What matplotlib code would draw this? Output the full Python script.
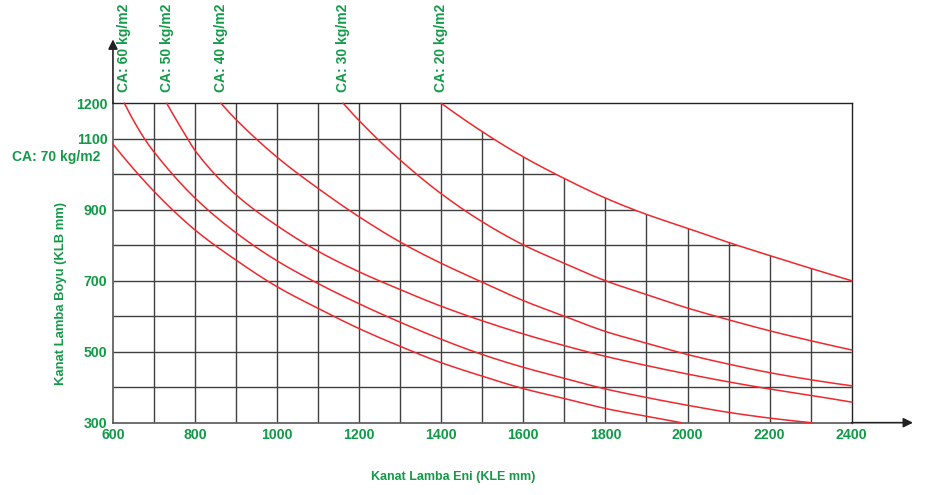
import matplotlib
matplotlib.use('Agg')
import matplotlib.pyplot as plt
import numpy as np
from matplotlib.patches import Polygon

plt.rcParams['font.family'] = ['DejaVu Sans']

# ---------------- data ----------------
ca_labels = ['CA: 70 kg/m2', 'CA: 60 kg/m2', 'CA: 50 kg/m2',
             'CA: 40 kg/m2', 'CA: 30 kg/m2', 'CA: 20 kg/m2']

ca70_x = [600, 700, 800, 900, 1000, 1100, 1200, 1300, 1400, 1500, 1600, 1700, 1800, 1900, 1985]
ca70_y = [1085, 952, 843, 758, 683, 622, 565, 515, 469, 431, 396, 368, 340, 318, 300]

ca60_x = [628, 677, 700, 800, 900, 1000, 1100, 1200, 1300, 1400, 1500, 1600, 1700, 1800, 1900, 2000, 2100, 2200, 2302]
ca60_y = [1200, 1100, 1063, 933, 835, 756, 692, 635, 583, 535, 492, 456, 425, 395, 371, 349, 329, 313, 300]

ca50_x = [731, 782, 800, 900, 1000, 1100, 1200, 1300, 1400, 1500, 1600, 1700, 1800, 1900, 2000, 2100, 2200, 2300, 2400]
ca50_y = [1200, 1100, 1067, 942, 855, 783, 725, 675, 628, 587, 550, 517, 487, 461, 437, 415, 395, 377, 358]

ca40_x = [863, 900, 1000, 1100, 1200, 1300, 1400, 1500, 1600, 1700, 1800, 1900, 2000, 2100, 2200, 2300, 2400]
ca40_y = [1200, 1154, 1048, 960, 880, 809, 749, 696, 644, 600, 557, 524, 492, 465, 441, 421, 404]

ca30_x = [1161, 1200, 1300, 1400, 1500, 1600, 1700, 1800, 1900, 2000, 2100, 2200, 2300, 2400]
ca30_y = [1200, 1151, 1040, 945, 866, 801, 749, 700, 661, 623, 590, 559, 531, 505]

ca20_x = [1400, 1500, 1600, 1700, 1800, 1900, 2000, 2100, 2200, 2300, 2400]
ca20_y = [1200, 1120, 1049, 988, 933, 887, 848, 808, 771, 735, 700]

x_ticks = [600, 800, 1000, 1200, 1400, 1600, 1800, 2000, 2200, 2400]
y_ticks = [300, 500, 700, 900, 1100, 1200]
grid_x = list(range(700, 2400, 100))
grid_y = list(range(400, 1200, 100))

x_label = 'Kanat Lamba Eni (KLE mm)'
y_label = 'Kanat Lamba Boyu (KLB mm)'

SANS = ['Liberation Sans', 'DejaVu Sans']


def smooth(xs, ys, n=200):
    """Monotone cubic (PCHIP) rendering of the read points."""
    x = np.asarray(xs, float)
    y = np.asarray(ys, float)
    h = np.diff(x)
    d = np.diff(y) / h
    m = np.zeros_like(x)
    for k in range(1, len(x) - 1):
        if d[k - 1] * d[k] > 0:
            w1 = 2 * h[k] + h[k - 1]
            w2 = h[k] + 2 * h[k - 1]
            m[k] = (w1 + w2) / (w1 / d[k - 1] + w2 / d[k])
    m[0] = ((2 * h[0] + h[1]) * d[0] - h[0] * d[1]) / (h[0] + h[1])
    if np.sign(m[0]) != np.sign(d[0]):
        m[0] = 0
    m[-1] = ((2 * h[-1] + h[-2]) * d[-1] - h[-1] * d[-2]) / (h[-1] + h[-2])
    if np.sign(m[-1]) != np.sign(d[-1]):
        m[-1] = 0
    xx = np.linspace(x[0], x[-1], n)
    idx = np.clip(np.searchsorted(x, xx) - 1, 0, len(x) - 2)
    t = (xx - x[idx]) / h[idx]
    h00 = 2 * t**3 - 3 * t**2 + 1
    h10 = t**3 - 2 * t**2 + t
    h01 = -2 * t**3 + 3 * t**2
    h11 = t**3 - t**2
    yy = (h00 * y[idx] + h10 * h[idx] * m[idx]
          + h01 * y[idx + 1] + h11 * h[idx] * m[idx + 1])
    return xx, yy


# ---------------- styling ----------------
GREEN = '#139a48'
RED = '#f0282d'
GRID = '#404040'

fig = plt.figure(figsize=(9.39, 4.95), dpi=100)
ax = fig.add_axes([0.1203, 0.1461, 0.7867, 0.6452])
ax.set_xlim(600, 2400)
ax.set_ylim(300, 1200)

# grid is only drawn below the CA 20 curve
c20x, c20y = smooth(ca20_x, ca20_y)
clip_verts = [(600, 300), (600, 1200)] + list(zip(c20x, c20y)) + [(2400, 300)]
clip_poly = Polygon(clip_verts, closed=True, facecolor='none', edgecolor='none',
                    transform=ax.transData)
ax.add_patch(clip_poly)

vl = ax.vlines(grid_x, 300, 1200, colors=GRID, linewidth=1.0, zorder=1)
hl = ax.hlines(grid_y, 600, 2400, colors=GRID, linewidth=1.0, zorder=1)
vl.set_clip_path(clip_poly)
hl.set_clip_path(clip_poly)

curves = [(ca70_x, ca70_y), (ca60_x, ca60_y), (ca50_x, ca50_y),
          (ca40_x, ca40_y), (ca30_x, ca30_y), (ca20_x, ca20_y)]
for cx, cy in curves:
    sx, sy = smooth(cx, cy)
    ax.plot(sx, sy, color=RED, linewidth=1.1, zorder=3, clip_on=False)

# curve labels
lab_font = dict(color=GREEN, fontsize=10, fontweight='bold', family=SANS)
ax.annotate(ca_labels[0], xy=(ca70_x[0], 1050), xytext=(-9, 0),
            textcoords='offset points', ha='right', va='center',
            annotation_clip=False, **lab_font)
for lab, (cx, cy) in zip(ca_labels[1:], curves[1:]):
    ax.annotate(lab, xy=(cx[0], 1200), xytext=(0, 8),
                textcoords='offset points', rotation=90, ha='center', va='bottom',
                annotation_clip=False, **lab_font)

# spines
for s in ['top', 'right']:
    ax.spines[s].set_color('#222222')
    ax.spines[s].set_linewidth(1.0)
for s in ['left', 'bottom']:
    ax.spines[s].set_color('#555555')
    ax.spines[s].set_linewidth(1.2)

# axis arrows
ax.annotate('', xy=(0, 1.2), xytext=(0, 1.0), xycoords='axes fraction',
            arrowprops=dict(arrowstyle='-|>', color='#222222', lw=1.2,
                            mutation_scale=14, shrinkA=0, shrinkB=0),
            annotation_clip=False)
ax.annotate('', xy=(1.083, 0), xytext=(1.0, 0), xycoords='axes fraction',
            arrowprops=dict(arrowstyle='-|>', color='#222222', lw=1.2,
                            mutation_scale=14, shrinkA=0, shrinkB=0),
            annotation_clip=False)

ax.set_xticks(x_ticks)
ax.set_yticks(y_ticks)
ax.tick_params(length=0, pad=4, labelcolor=GREEN)
for t in ax.get_xticklabels() + ax.get_yticklabels():
    t.set_fontweight('bold')
    t.set_family(SANS)
    t.set_fontsize(10.2)

ax.set_xlabel(x_label, color=GREEN, fontsize=9.0, fontweight='bold', family=SANS)
ax.set_ylabel(y_label, color=GREEN, fontsize=9.4, fontweight='bold', family=SANS)
ax.xaxis.set_label_coords(0.46, -0.169)
ax.xaxis.label.set_va('center')
ax.yaxis.set_label_coords(-0.071, 0.406)
ax.yaxis.label.set_va('center')

fig.savefig('out.png', dpi=100)
